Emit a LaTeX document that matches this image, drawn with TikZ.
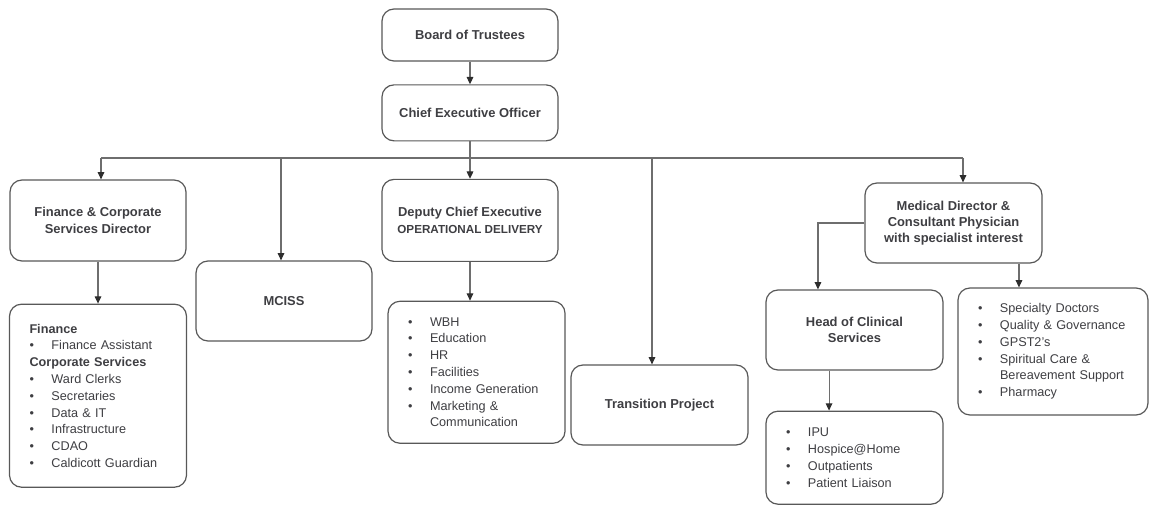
\documentclass[tikz,border=0pt]{standalone}
\usepackage{fontspec}
\setmainfont{Liberation Sans}
\usetikzlibrary{arrows.meta, positioning}
\definecolor{inkgray}{RGB}{62,62,66}
\definecolor{framegray}{RGB}{88,88,88}
\definecolor{linkgray}{RGB}{110,110,110}
\definecolor{tipgray}{RGB}{45,45,45}
\tikzstyle{post}=[draw=framegray, rounded corners=9pt, line width=0.9pt, text=inkgray, align=center, inner sep=2pt, font=\bfseries\fontsize{9.7}{12.2}\selectfont]
\tikzstyle{roster}=[post, font=\fontsize{9.5}{12.6}\selectfont, align=left, inner xsep=15pt]
\tikzstyle{report}=[draw=linkgray, line width=0.8pt, -{Triangle[length=5.5pt,width=5pt,color=tipgray]}]
\newcommand{\bul}{\makebox[16.5pt][l]{\textbullet}}

\begin{document}
\begin{tikzpicture}[x=0.75pt, y=-0.75pt]
  \useasboundingbox (0,0) rectangle (1150,505);
  % top of the tree
  \node[post, minimum width=132pt, minimum height=39pt] (board) at (470,35) {Board of Trustees};
  \node[post, minimum width=132pt, minimum height=42pt] (ceo) [below=17pt of board] {Chief Executive Officer};
  % second row
  \node[post, minimum width=132pt, minimum height=61.5pt] (dep) [below=28pt of ceo] {Deputy Chief Executive\\{\fontsize{8.75}{11}\selectfont OPERATIONAL DELIVERY}};
  \node[post, minimum width=132pt, minimum height=60.75pt] (fin) at (98,220.5) {Finance \& Corporate\\Services Director};
  \node[post, minimum width=132pt, minimum height=60pt] (mciss) at (284,301) {MCISS};
  \node[post, minimum width=132.75pt, minimum height=60pt] (trans) at (659.5,405) {Transition Project};
  \node[post, minimum width=132.75pt, minimum height=60pt] (med) at (953.5,223) {Medical Director \&\\Consultant Physician\\with specialist interest};
  \node[post, minimum width=132.75pt, minimum height=60pt] (hcs) at (854.5,330) {Head of Clinical\\Services};
  % lists
  \node[roster, text width=102.75pt, minimum height=137.25pt] (finlist) [below=31.5pt of fin] {\textbf{Finance}\\
    \bul Finance Assistant\\
    \textbf{Corporate Services}\\
    \bul Ward Clerks\\
    \bul Secretaries\\
    \bul Data \& IT\\
    \bul Infrastructure\\
    \bul CDAO\\
    \bul Caldicott Guardian};
  \node[roster, text width=102.75pt, minimum height=106.5pt] (deplist) [below=29pt of dep, xshift=4.9pt] {\bul WBH\\
    \bul Education\\
    \bul HR\\
    \bul Facilities\\
    \bul Income Generation\\
    \bul Marketing \&\\
    \hspace*{16.5pt}Communication};
  \node[roster, text width=102.75pt, minimum height=69.75pt] (hcslist) [below=30pt of hcs] {\bul IPU\\
    \bul Hospice@Home\\
    \bul Outpatients\\
    \bul Patient Liaison};
  \node[roster, text width=112.5pt, minimum height=95.25pt] (medlist) at (1053,351.5) {\bul Specialty Doctors\\
    \bul Quality \& Governance\\
    \bul GPST2's\\
    \bul Spiritual Care \&\\
    \hspace*{16.5pt}Bereavement Support\\
    \bul Pharmacy};
  % bus and taps
  \coordinate (tapFin) at (101,158);
  \coordinate (tapMC) at (281,158);
  \coordinate (tapTP) at (652,158);
  \coordinate (tapMD) at (963,158);
  \coordinate (hcsIn) at ([xshift=-27.4pt]hcs.north);
  \coordinate (mdOut) at ([xshift=49.1pt]med.south);
  \coordinate (hcsOut) at ([xshift=-19.1pt]hcs.south);
  \path[report] (board) edge (ceo) (ceo) edge (dep);
  \draw[draw=linkgray, line width=0.8pt] (tapFin) -- (tapMD);
  \draw[report] (tapFin) -- (tapFin |- fin.north);
  \draw[report] (tapMC) -- (tapMC |- mciss.north);
  \draw[report] (tapTP) -- (tapTP |- trans.north);
  \draw[report] (tapMD) -- (tapMD |- med.north);
  \draw[report] (fin.south) -- (fin.south |- finlist.north);
  \draw[report] (dep.south) -- (dep.south |- deplist.north);
  \draw[report] (med.west) -| (hcsIn);
  \draw[report] (mdOut) -- (mdOut |- medlist.north);
  \draw[report] (hcsOut) -- (hcsOut |- hcslist.north);
\end{tikzpicture}
\end{document}
